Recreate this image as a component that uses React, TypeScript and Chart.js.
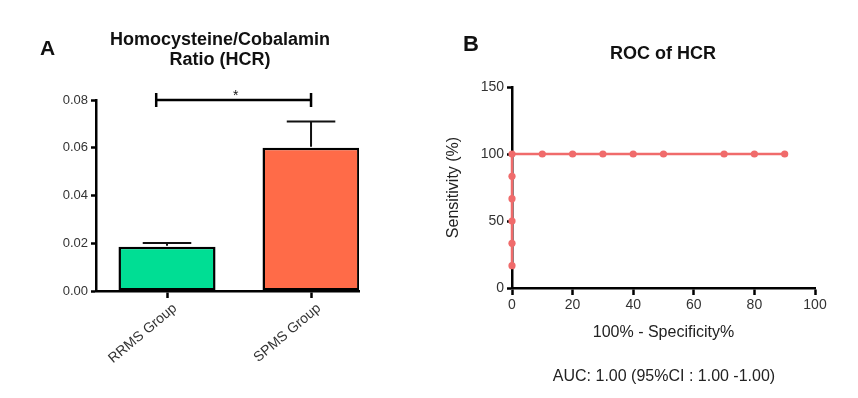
import React, { useEffect, useRef } from "react";
import { Chart, registerables } from "chart.js";

Chart.register(...registerables);

// ---- Panel A data ----
const groups = ["RRMS Group", "SPMS Group"];
const hcrMean = [0.0185, 0.06];
const hcrSem = [0.0016, 0.011];
const hcrTicks = [0, 0.02, 0.04, 0.06, 0.08];
const barColors = ["#00DE94", "#FF6B48"];

// ---- Panel B data ----
const rocFpr = [0, 0, 0, 0, 0, 0, 10, 20, 30, 40, 50, 70, 80, 90];
const rocSens = [16.67, 33.33, 50, 66.67, 83.33, 100, 100, 100, 100, 100, 100, 100, 100, 100];
const rocXTicks = [0, 20, 40, 60, 80, 100];
const rocYTicks = [0, 50, 100, 150];

const FONT = "'Liberation Sans', Arial, Helvetica, sans-serif";
const TICK_COLOR = "#333";
const AXIS_COLOR = "#000";
const ROC_COLOR = "#F06B6B";

const panelAPlugin = {
  id: "panelAExtras",
  afterDatasetsDraw(chart: any) {
    const { ctx } = chart;
    const x = chart.scales.x;
    const y = chart.scales.y;
    const meta = chart.getDatasetMeta(0);
    ctx.save();
    // error bars
    meta.data.forEach((bar: any, i: number) => {
      const cx = bar.x;
      const top = y.getPixelForValue(hcrMean[i]);
      const errTop = y.getPixelForValue(hcrMean[i] + hcrSem[i]);
      const half = bar.width / 4;
      ctx.strokeStyle = "#111";
      ctx.lineWidth = 2;
      ctx.beginPath();
      ctx.moveTo(cx, top - 1);
      ctx.lineTo(cx, errTop);
      ctx.moveTo(cx - half, errTop);
      ctx.lineTo(cx + half, errTop);
      ctx.stroke();
    });
    // significance bracket
    const by = y.getPixelForValue(hcrTicks[hcrTicks.length - 1]);
    const bx1 = x.getPixelForValue(1 - 0.075);
    const bx2 = x.getPixelForValue(2);
    ctx.strokeStyle = AXIS_COLOR;
    ctx.lineWidth = 2.5;
    ctx.beginPath();
    ctx.moveTo(bx1, by);
    ctx.lineTo(bx2, by);
    ctx.moveTo(bx1, by - 7);
    ctx.lineTo(bx1, by + 7);
    ctx.moveTo(bx2, by - 7);
    ctx.lineTo(bx2, by + 7);
    ctx.stroke();
    ctx.fillStyle = "#111";
    ctx.font = `14px ${FONT}`;
    ctx.textAlign = "center";
    ctx.textBaseline = "alphabetic";
    ctx.fillText("*", (bx1 + bx2) / 2 + 2, by);
    ctx.restore();
  },
  afterDraw(chart: any) {
    const { ctx } = chart;
    ctx.save();
    ctx.fillStyle = "#111";
    ctx.textBaseline = "alphabetic";
    ctx.textAlign = "left";
    ctx.font = `bold 21px ${FONT}`;
    ctx.fillText("A", 40, 55);
    ctx.textAlign = "center";
    ctx.font = `bold 18px ${FONT}`;
    ctx.fillText("Homocysteine/Cobalamin", 220, 44.5);
    ctx.fillText("Ratio (HCR)", 220, 65);
    ctx.restore();
  },
};

const panelBPlugin = {
  id: "panelBExtras",
  afterDraw(chart: any) {
    const { ctx } = chart;
    ctx.save();
    ctx.fillStyle = "#111";
    ctx.textBaseline = "alphabetic";
    ctx.textAlign = "left";
    ctx.font = `bold 22px ${FONT}`;
    ctx.fillText("B", 43, 51);
    ctx.textAlign = "center";
    ctx.font = `bold 18px ${FONT}`;
    ctx.fillText("ROC of HCR", 243, 59);
    ctx.font = `16px ${FONT}`;
    ctx.fillStyle = "#222";
    ctx.fillText("AUC: 1.00 (95%CI : 1.00 -1.00)", 244, 380.5);
    ctx.restore();
  },
};

function configA(): any {
  return {
    type: "bar",
    data: {
      datasets: [
        {
          data: groups.map((g, i) => ({ x: i + 1, y: hcrMean[i] })),
          backgroundColor: barColors,
          borderColor: "#000",
          borderWidth: 2.5,
          borderSkipped: false,
          categoryPercentage: 1,
          barPercentage: 0.674,
        },
      ],
    },
    options: {
      responsive: false,
      animation: false,
      events: [],
      layout: { padding: { left: 0, right: 61, top: 100, bottom: 0 } },
      plugins: { legend: { display: false }, tooltip: { enabled: false }, title: { display: false } },
      scales: {
        x: {
          type: "linear",
          offset: false,
          min: 0.507,
          max: 2.333,
          afterBuildTicks: (s: any) => {
            s.ticks = groups.map((_, i) => ({ value: i + 1 }));
          },
          afterFit: (s: any) => {
            s.height = 107;
          },
          ticks: {
            autoSkip: false,
            minRotation: 40,
            maxRotation: 40,
            labelOffset: 8,
            padding: 2,
            color: TICK_COLOR,
            font: { family: FONT, size: 14 },
            callback: (_v: any, i: number) => groups[i],
          },
          grid: {
            offset: false,
            drawOnChartArea: false,
            drawTicks: true,
            tickLength: 7,
            tickWidth: 2.5,
            tickColor: AXIS_COLOR,
          },
          border: { display: true, color: AXIS_COLOR, width: 2.5 },
        },
        y: {
          type: "linear",
          min: 0,
          max: 0.08,
          afterBuildTicks: (s: any) => {
            s.ticks = hcrTicks.map((v) => ({ value: v }));
          },
          afterFit: (s: any) => {
            s.width = 96;
          },
          ticks: {
            padding: 3,
            color: TICK_COLOR,
            font: { family: FONT, size: 13 },
            callback: (v: any) => Number(v).toFixed(2),
          },
          grid: {
            drawOnChartArea: false,
            drawTicks: true,
            tickLength: 5,
            tickWidth: 2.5,
            tickColor: AXIS_COLOR,
          },
          border: { display: true, color: AXIS_COLOR, width: 2.5 },
        },
      },
    },
    plugins: [panelAPlugin],
  };
}

function configB(): any {
  return {
    type: "line",
    data: {
      datasets: [
        {
          data: rocFpr.map((fx, i) => ({ x: fx, y: rocSens[i] })),
          borderColor: ROC_COLOR,
          backgroundColor: ROC_COLOR,
          pointBackgroundColor: ROC_COLOR,
          pointBorderColor: ROC_COLOR,
          pointBorderWidth: 0,
          pointRadius: 3.6,
          borderWidth: 2.5,
          tension: 0,
          clip: false,
          fill: false,
        },
      ],
    },
    options: {
      responsive: false,
      animation: false,
      events: [],
      layout: { padding: { left: 0, right: 43, top: 87, bottom: 0 } },
      plugins: { legend: { display: false }, tooltip: { enabled: false }, title: { display: false } },
      scales: {
        x: {
          type: "linear",
          min: 0,
          max: 100,
          afterBuildTicks: (s: any) => {
            s.ticks = rocXTicks.map((v) => ({ value: v }));
          },
          afterFit: (s: any) => {
            s.height = 110;
          },
          ticks: {
            maxRotation: 0,
            autoSkip: false,
            padding: 2,
            color: TICK_COLOR,
            font: { family: FONT, size: 14 },
          },
          grid: {
            drawOnChartArea: false,
            drawTicks: true,
            tickLength: 7,
            tickWidth: 2.5,
            tickColor: AXIS_COLOR,
          },
          border: { display: true, color: AXIS_COLOR, width: 2.5 },
          title: {
            display: true,
            text: "100% - Specificity%",
            color: "#222",
            font: { family: FONT, size: 16 },
            padding: { top: 0, bottom: 55.4 },
          },
        },
        y: {
          type: "linear",
          min: 0,
          max: 150,
          afterBuildTicks: (s: any) => {
            s.ticks = rocYTicks.map((v) => ({ value: v }));
          },
          afterFit: (s: any) => {
            s.width = 92;
          },
          ticks: {
            padding: 3,
            color: TICK_COLOR,
            font: { family: FONT, size: 14 },
          },
          grid: {
            drawOnChartArea: false,
            drawTicks: true,
            tickLength: 5,
            tickWidth: 2.5,
            tickColor: AXIS_COLOR,
          },
          border: { display: true, color: AXIS_COLOR, width: 2.5 },
          title: {
            display: true,
            text: "Sensitivity (%)",
            color: "#222",
            font: { family: FONT, size: 16 },
            padding: { top: 24, bottom: 0 },
          },
        },
      },
    },
    plugins: [panelBPlugin],
  };
}

export default function App() {
  const aRef = useRef<HTMLCanvasElement>(null);
  const bRef = useRef<HTMLCanvasElement>(null);
  useEffect(() => {
    const a = new Chart(aRef.current as HTMLCanvasElement, configA());
    const b = new Chart(bRef.current as HTMLCanvasElement, configB());
    return () => {
      a.destroy();
      b.destroy();
    };
  }, []);
  return (
    <div style={{ position: "fixed", left: 0, top: 0, width: 858, height: 398, background: "#fff" }}>
      <canvas
        ref={aRef}
        width={420}
        height={398}
        style={{ position: "absolute", left: 0, top: 0, width: 420, height: 398 }}
      />
      <canvas
        ref={bRef}
        width={438}
        height={398}
        style={{ position: "absolute", left: 420, top: 0, width: 438, height: 398 }}
      />
    </div>
  );
}
